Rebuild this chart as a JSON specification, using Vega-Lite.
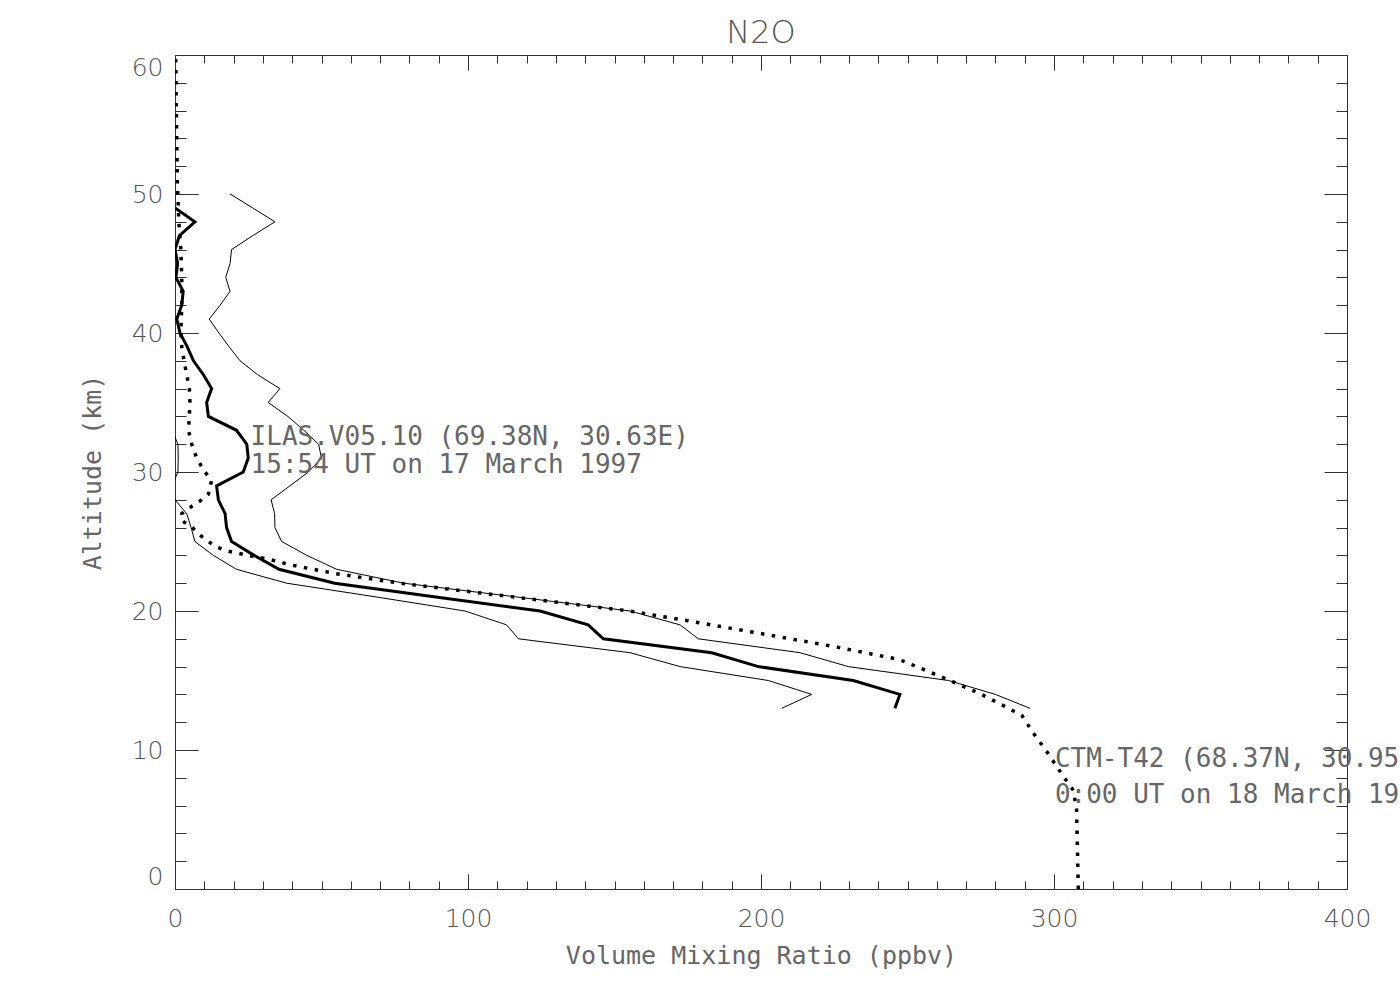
{
  "$schema": "https://vega.github.io/schema/vega-lite/v6.json",
  "width": 1172,
  "height": 834,
  "autosize": {"type": "none"},
  "padding": {"left": 175, "top": 55, "right": 53, "bottom": 111},
  "background": "white",
  "title": {"text": "N2O", "fontSize": 32, "font": "DejaVu Sans", "fontWeight": 300, "color": "#555", "offset": 5},
  "config": {
    "view": {"stroke": "#333", "strokeWidth": 1},
    "axis": {
      "grid": false, "domain": false,
      "labelFont": "DejaVu Sans", "labelFontSize": 25, "labelFontWeight": 300, "labelColor": "#555",
      "titleFont": "DejaVu Sans Mono", "titleFontSize": 25, "titleFontWeight": 300, "titleColor": "#666",
      "tickColor": "#333", "tickWidth": 1
    }
  },
  "datasets": {
    "upper": [
      {"alt": 50, "vmr": 18.8}, {"alt": 49, "vmr": 26.5}, {"alt": 48, "vmr": 34.1}, {"alt": 47, "vmr": 26.5},
      {"alt": 46, "vmr": 19.3}, {"alt": 45, "vmr": 18.8}, {"alt": 44, "vmr": 17.3}, {"alt": 43, "vmr": 18.8},
      {"alt": 42, "vmr": 15.4}, {"alt": 41, "vmr": 11.7}, {"alt": 40, "vmr": 15}, {"alt": 39, "vmr": 18.5},
      {"alt": 38, "vmr": 22.2}, {"alt": 37, "vmr": 28.2}, {"alt": 36, "vmr": 35.8}, {"alt": 35, "vmr": 31.8},
      {"alt": 34, "vmr": 38.5}, {"alt": 33, "vmr": 44}, {"alt": 32, "vmr": 49}, {"alt": 31, "vmr": 50},
      {"alt": 30, "vmr": 45.5}, {"alt": 29, "vmr": 39.2}, {"alt": 28, "vmr": 32.8}, {"alt": 27, "vmr": 34},
      {"alt": 26, "vmr": 34.1}, {"alt": 25, "vmr": 36.4}, {"alt": 24, "vmr": 45}, {"alt": 23, "vmr": 55.2},
      {"alt": 22, "vmr": 78}, {"alt": 21, "vmr": 117}, {"alt": 20, "vmr": 155.3}, {"alt": 19, "vmr": 172.4},
      {"alt": 18, "vmr": 178.6}, {"alt": 17, "vmr": 213.3}, {"alt": 16, "vmr": 229.8}, {"alt": 15, "vmr": 264},
      {"alt": 14, "vmr": 280}, {"alt": 13, "vmr": 291.8}
    ],
    "lower": [
      {"alt": 33, "vmr": -1}, {"alt": 32, "vmr": 1}, {"alt": 31, "vmr": 1.1}, {"alt": 30, "vmr": 1},
      {"alt": 29, "vmr": -1}, {"alt": 28, "vmr": 0}, {"alt": 27, "vmr": 4}, {"alt": 26, "vmr": 5.5},
      {"alt": 25, "vmr": 6.8}, {"alt": 24, "vmr": 13.1}, {"alt": 23, "vmr": 21}, {"alt": 22, "vmr": 38.1},
      {"alt": 21, "vmr": 69}, {"alt": 20, "vmr": 99}, {"alt": 19, "vmr": 113.2}, {"alt": 18, "vmr": 117.2},
      {"alt": 17, "vmr": 155.3}, {"alt": 16, "vmr": 172.4}, {"alt": 15, "vmr": 202.5}, {"alt": 14, "vmr": 217.3},
      {"alt": 13, "vmr": 207.1}
    ],
    "ilas": [
      {"alt": 49, "vmr": 0}, {"alt": 48, "vmr": 6.8}, {"alt": 47, "vmr": 1.5}, {"alt": 46, "vmr": 0},
      {"alt": 45, "vmr": 0.9}, {"alt": 44, "vmr": 0.3}, {"alt": 43, "vmr": 2.8}, {"alt": 42, "vmr": 2.3},
      {"alt": 41, "vmr": 0.6}, {"alt": 40, "vmr": 1.7}, {"alt": 39, "vmr": 4.2}, {"alt": 38, "vmr": 6.3},
      {"alt": 37, "vmr": 9.7}, {"alt": 36, "vmr": 12.5}, {"alt": 35, "vmr": 10.8}, {"alt": 34, "vmr": 11.4},
      {"alt": 33, "vmr": 21}, {"alt": 32, "vmr": 24.5}, {"alt": 31, "vmr": 25}, {"alt": 30, "vmr": 23.3},
      {"alt": 29, "vmr": 14.2}, {"alt": 28, "vmr": 14.8}, {"alt": 27, "vmr": 17.1}, {"alt": 26, "vmr": 17.6},
      {"alt": 25, "vmr": 19.3}, {"alt": 24, "vmr": 27}, {"alt": 23, "vmr": 35.5}, {"alt": 22, "vmr": 54.5},
      {"alt": 21, "vmr": 89}, {"alt": 20, "vmr": 124.6}, {"alt": 19, "vmr": 141}, {"alt": 18, "vmr": 146.2},
      {"alt": 17, "vmr": 183.2}, {"alt": 16, "vmr": 199.1}, {"alt": 15, "vmr": 231.5}, {"alt": 14, "vmr": 247.4},
      {"alt": 13, "vmr": 245.7}
    ],
    "ctm": [
      {"alt": 60, "vmr": 0.2}, {"alt": 57, "vmr": 0.4}, {"alt": 54, "vmr": 0.6}, {"alt": 51, "vmr": 0.8},
      {"alt": 48, "vmr": 1.3}, {"alt": 46, "vmr": 2.0}, {"alt": 44, "vmr": 2.3}, {"alt": 42, "vmr": 2.3},
      {"alt": 40, "vmr": 2.0}, {"alt": 39, "vmr": 2.3}, {"alt": 38, "vmr": 3.1}, {"alt": 37, "vmr": 4.0},
      {"alt": 36, "vmr": 4.9}, {"alt": 35, "vmr": 5.1}, {"alt": 34, "vmr": 4.9}, {"alt": 33, "vmr": 4.6},
      {"alt": 32, "vmr": 5.7}, {"alt": 31, "vmr": 7.4}, {"alt": 30, "vmr": 10.2}, {"alt": 29.4, "vmr": 12.5},
      {"alt": 28.4, "vmr": 11.4}, {"alt": 27.9, "vmr": 8.5}, {"alt": 27.5, "vmr": 5.5}, {"alt": 27.0, "vmr": 2.3},
      {"alt": 26.5, "vmr": 2.3}, {"alt": 26.1, "vmr": 5.4}, {"alt": 25.5, "vmr": 8.3}, {"alt": 25.0, "vmr": 11.4},
      {"alt": 24.6, "vmr": 14.2}, {"alt": 24.3, "vmr": 18.2}, {"alt": 24.0, "vmr": 25}, {"alt": 23.7, "vmr": 32.4},
      {"alt": 23.3, "vmr": 39.8}, {"alt": 22.7, "vmr": 54.6}, {"alt": 22.0, "vmr": 76.8}, {"alt": 20.0, "vmr": 155},
      {"alt": 19.3, "vmr": 175}, {"alt": 18.3, "vmr": 202}, {"alt": 17.4, "vmr": 226}, {"alt": 16.5, "vmr": 247.4},
      {"alt": 15.0, "vmr": 264.5}, {"alt": 14.0, "vmr": 275.3}, {"alt": 12.5, "vmr": 289}, {"alt": 11.2, "vmr": 293},
      {"alt": 9.9, "vmr": 297.5}, {"alt": 8.1, "vmr": 303.2}, {"alt": 7.1, "vmr": 306.6}, {"alt": 5.7, "vmr": 307.7},
      {"alt": 0, "vmr": 308.3}
    ],
    "labels": [
      {"vmr": 25.8, "alt": 31.95, "text": "ILAS.V05.10 (69.38N, 30.63E)"},
      {"vmr": 25.8, "alt": 29.9, "text": "15:54 UT on 17 March 1997"},
      {"vmr": 300.3, "alt": 8.8, "text": "CTM-T42 (68.37N, 30.95E)"},
      {"vmr": 300.3, "alt": 6.2, "text": "0:00 UT on 18 March 1997"}
    ]
  },
  "resolve": {"axis": {"x": "independent", "y": "independent"}},
  "layer": [
    {
      "data": {"name": "upper"},
      "mark": {"type": "line", "color": "black", "strokeWidth": 1, "clip": true},
      "encoding": {
        "x": {"field": "vmr", "type": "quantitative", "scale": {"domain": [0, 400], "nice": false},
          "axis": {"orient": "bottom", "title": "Volume Mixing Ratio (ppbv)", "values": [0, 100, 200, 300, 400], "tickSize": -15, "labelPadding": 32, "labelFlush": false, "titlePadding": 12}},
        "y": {"field": "alt", "type": "quantitative", "scale": {"domain": [0, 60], "nice": false},
          "axis": {"orient": "left", "title": "Altitude (km)", "values": [0, 10, 20, 30, 40, 50, 60], "tickSize": -23, "labelPadding": 35, "labelFlush": true, "titlePadding": 26}},
        "order": {"field": "alt", "type": "quantitative"}
      }
    },
    {
      "data": {"name": "lower"},
      "mark": {"type": "line", "color": "black", "strokeWidth": 1, "clip": true},
      "encoding": {
        "x": {"field": "vmr", "type": "quantitative", "scale": {"domain": [0, 400], "nice": false},
          "axis": {"orient": "bottom", "title": null, "labels": false, "tickSize": -8,
            "values": [10,20,30,40,50,60,70,80,90,110,120,130,140,150,160,170,180,190,210,220,230,240,250,260,270,280,290,310,320,330,340,350,360,370,380,390]}},
        "y": {"field": "alt", "type": "quantitative", "scale": {"domain": [0, 60], "nice": false},
          "axis": {"orient": "left", "title": null, "labels": false, "tickSize": -11,
            "values": [2,4,6,8,12,14,16,18,22,24,26,28,32,34,36,38,42,44,46,48,52,54,56,58]}},
        "order": {"field": "alt", "type": "quantitative"}
      }
    },
    {
      "data": {"name": "ilas"},
      "mark": {"type": "line", "color": "black", "strokeWidth": 3, "clip": true},
      "encoding": {
        "x": {"field": "vmr", "type": "quantitative", "scale": {"domain": [0, 400], "nice": false},
          "axis": {"orient": "top", "title": null, "labels": false, "tickSize": -15, "values": [0, 100, 200, 300, 400]}},
        "y": {"field": "alt", "type": "quantitative", "scale": {"domain": [0, 60], "nice": false},
          "axis": {"orient": "right", "title": null, "labels": false, "tickSize": -23, "values": [0, 10, 20, 30, 40, 50, 60]}},
        "order": {"field": "alt", "type": "quantitative"}
      }
    },
    {
      "data": {"name": "ctm"},
      "mark": {"type": "line", "color": "black", "strokeWidth": 3.5, "strokeDash": [3.5, 7.5], "strokeCap": "butt", "clip": true},
      "encoding": {
        "x": {"field": "vmr", "type": "quantitative", "scale": {"domain": [0, 400], "nice": false},
          "axis": {"orient": "top", "title": null, "labels": false, "tickSize": -8,
            "values": [10,20,30,40,50,60,70,80,90,110,120,130,140,150,160,170,180,190,210,220,230,240,250,260,270,280,290,310,320,330,340,350,360,370,380,390]}},
        "y": {"field": "alt", "type": "quantitative", "scale": {"domain": [0, 60], "nice": false},
          "axis": {"orient": "right", "title": null, "labels": false, "tickSize": -11,
            "values": [2,4,6,8,12,14,16,18,22,24,26,28,32,34,36,38,42,44,46,48,52,54,56,58]}},
        "order": {"field": "alt", "type": "quantitative"}
      }
    },
    {
      "data": {"name": "labels"},
      "mark": {"type": "text", "align": "left", "baseline": "alphabetic", "font": "DejaVu Sans Mono", "fontSize": 26, "fontWeight": 300, "color": "#666"},
      "encoding": {
        "x": {"field": "vmr", "type": "quantitative", "scale": {"domain": [0, 400], "nice": false}, "axis": null},
        "y": {"field": "alt", "type": "quantitative", "scale": {"domain": [0, 60], "nice": false}, "axis": null},
        "text": {"field": "text"}
      }
    }
  ]
}
